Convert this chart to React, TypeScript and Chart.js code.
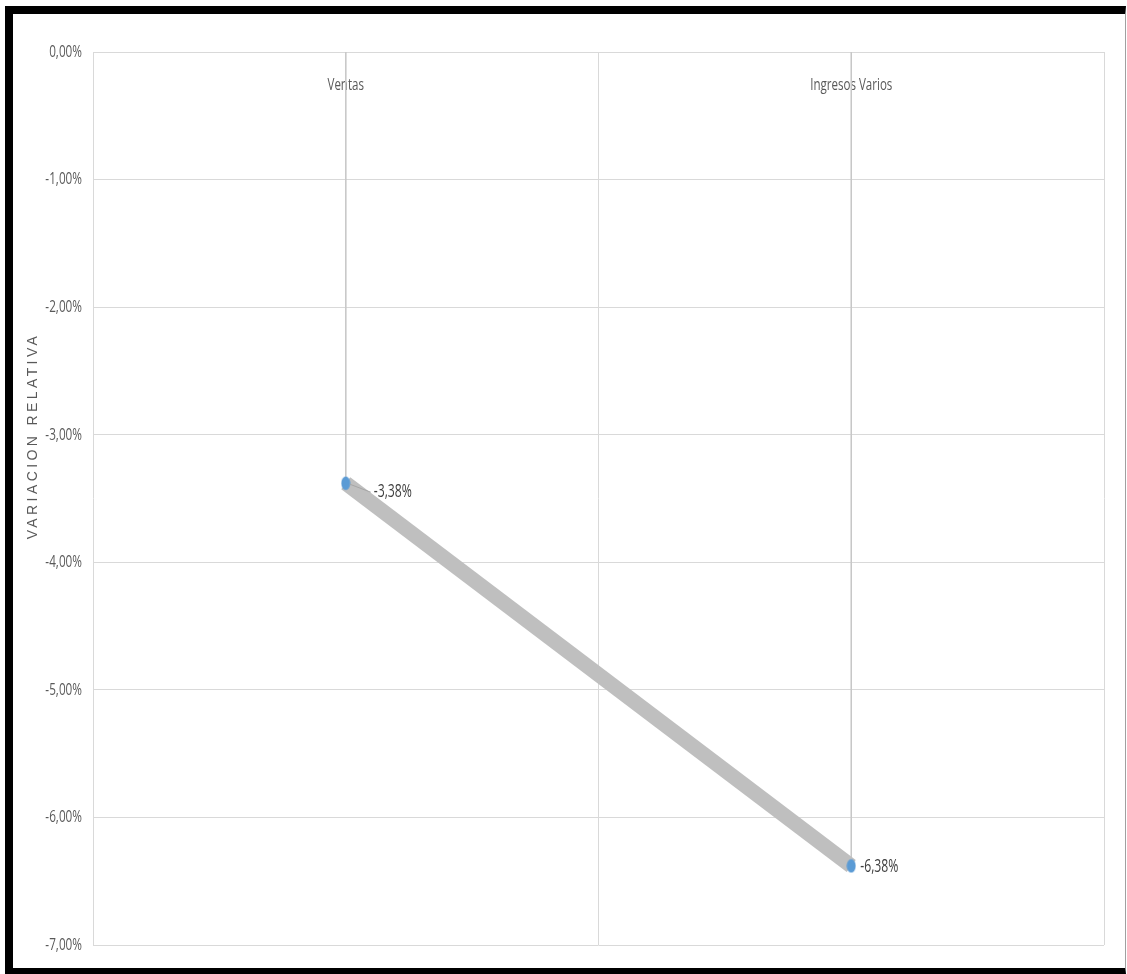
import React, { useEffect, useRef } from 'react';
import { Chart, registerables } from 'chart.js';

Chart.register(...registerables);

const categories = ['Ventas', 'Ingresos Varios'];
const values = [-3.38, -6.38];
const yMin = -7;
const yMax = 0;
const yStep = 1;
const axisTitle = 'VARIACION RELATIVA';

const FONT = "'Open Sans', 'Noto Sans', sans-serif";
const WIDE = "'Liberation Sans', Arial, sans-serif";

const fmt = (v: number) => v.toFixed(2).replace('.', ',') + '%';

const labelOffsets = [
  { dx: 28, dy: 9, leader: true },
  { dx: 9, dy: 1, leader: false },
];

function drawSqueezed(
  ctx: CanvasRenderingContext2D,
  text: string,
  x: number,
  y: number,
  align: CanvasTextAlign,
  squeeze: number
) {
  ctx.save();
  ctx.translate(x, y);
  ctx.scale(squeeze, 1);
  ctx.textAlign = align;
  ctx.fillText(text, 0, 0);
  ctx.restore();
}

const axisLabelPlugin = {
  id: 'axisLabels',
  beforeDatasetsDraw(chart: any) {
    const ctx: CanvasRenderingContext2D = chart.ctx;
    const xs = chart.scales.x;
    const ys = chart.scales.y;
    const area = chart.chartArea;
    ctx.save();
    ctx.fillStyle = '#595959';
    ctx.textBaseline = 'middle';
    ctx.font = `17px ${FONT}`;
    ys.ticks.forEach((t: any) => {
      drawSqueezed(ctx, fmt(Number(t.value)), area.left - 11, ys.getPixelForValue(t.value), 'right', 0.69);
    });
    ctx.font = `17px ${FONT}`;
    categories.forEach((c, i) => {
      drawSqueezed(ctx, c, xs.getPixelForValue(i), ys.getPixelForValue(0) + 33, 'center', 0.68);
    });
    ctx.restore();
  },
};

const dataLabelPlugin = {
  id: 'dataLabels',
  afterDatasetsDraw(chart: any) {
    const meta = chart.getDatasetMeta(0);
    const ctx: CanvasRenderingContext2D = chart.ctx;
    ctx.save();
    ctx.font = `18px ${FONT}`;
    ctx.fillStyle = '#404040';
    ctx.textBaseline = 'middle';
    meta.data.forEach((pt: any, i: number) => {
      const o = labelOffsets[i] || { dx: 9, dy: 0, leader: false };
      const x = pt.x + o.dx;
      const y = pt.y + o.dy;
      if (o.leader) {
        ctx.strokeStyle = '#A6A6A6';
        ctx.lineWidth = 1;
        ctx.beginPath();
        ctx.moveTo(pt.x + 4, pt.y + 1);
        ctx.lineTo(x - 3, y);
        ctx.stroke();
      }
      drawSqueezed(ctx, fmt(values[i]), x, y, 'left', 0.68);
    });
    ctx.restore();
  },
};

const yTitlePlugin = {
  id: 'yTitle',
  afterDraw(chart: any) {
    const ctx = chart.ctx;
    const area = chart.chartArea;
    ctx.save();
    ctx.font = `14px ${WIDE}`;
    (ctx as any).letterSpacing = '3.4px';
    ctx.fillStyle = '#595959';
    ctx.textAlign = 'center';
    ctx.textBaseline = 'middle';
    ctx.translate(20, area.top + (area.bottom - area.top) * 0.43);
    ctx.rotate(-Math.PI / 2);
    ctx.fillText(axisTitle, 0, 0);
    ctx.restore();
  },
};

function makeEllipsePoint() {
  const c = document.createElement('canvas');
  c.width = 10;
  c.height = 15;
  const g = c.getContext('2d')!;
  g.fillStyle = '#5B9BD5';
  g.beginPath();
  g.ellipse(5, 7.5, 4.5, 6.8, 0, 0, Math.PI * 2);
  g.fill();
  return c;
}

export default function App() {
  const ref = useRef<HTMLCanvasElement | null>(null);

  useEffect(() => {
    document.body.style.margin = '0';
    if (!ref.current) return;
    const pointImg = makeEllipsePoint();
    const dropLines = categories.map((c, i) => ({
      type: 'line' as const,
      data: [
        { x: c, y: 0 },
        { x: c, y: values[i] },
      ],
      borderColor: '#C8C8C8',
      borderWidth: 1,
      pointRadius: 0,
      order: 2,
    }));
    const chart = new Chart(ref.current, {
      type: 'line',
      data: {
        labels: categories,
        datasets: [
          {
            data: values,
            borderColor: '#BFBFBF',
            borderWidth: 15,
            borderCapStyle: 'butt',
            pointStyle: pointImg,
            pointRadius: 6,
            pointHoverRadius: 6,
            order: 0,
          } as any,
          ...(dropLines as any[]),
        ],
      },
      options: {
        animation: false,
        responsive: false,
        devicePixelRatio: 1,
        layout: { padding: { top: 38, right: 19, bottom: 23, left: 0 } },
        plugins: { legend: { display: false }, tooltip: { enabled: false } },
        events: [],
        scales: {
          x: {
            type: 'category',
            position: { y: 0 } as any,
            offset: true,
            grid: { color: '#D9D9D9', offset: true, drawTicks: false },
            border: { display: false },
            ticks: { display: false },
          },
          y: {
            min: yMin,
            max: yMax,
            grid: { color: '#D9D9D9', drawTicks: false },
            border: { display: false },
            afterFit: (s: any) => {
              s.width = 80;
            },
            ticks: {
              stepSize: yStep,
              display: false,
            },
          },
        },
      },
      plugins: [axisLabelPlugin, dataLabelPlugin, yTitlePlugin],
    });
    return () => chart.destroy();
  }, []);

  return (
    <div style={{ position: 'relative', width: 1127, height: 974, background: '#fff' }}>
      <div
        style={{
          position: 'absolute',
          left: 5,
          top: 6,
          width: 1121,
          height: 968,
          boxSizing: 'border-box',
          borderLeft: '8px solid #000',
          borderTop: '8px solid #000',
          borderBottom: '6px solid #000',
          borderRight: '1px solid #A0A0A0',
          background: '#fff',
        }}
      >
        <canvas ref={ref} width={1112} height={954} style={{ display: 'block', width: 1112, height: 954 }} />
      </div>
    </div>
  );
}
